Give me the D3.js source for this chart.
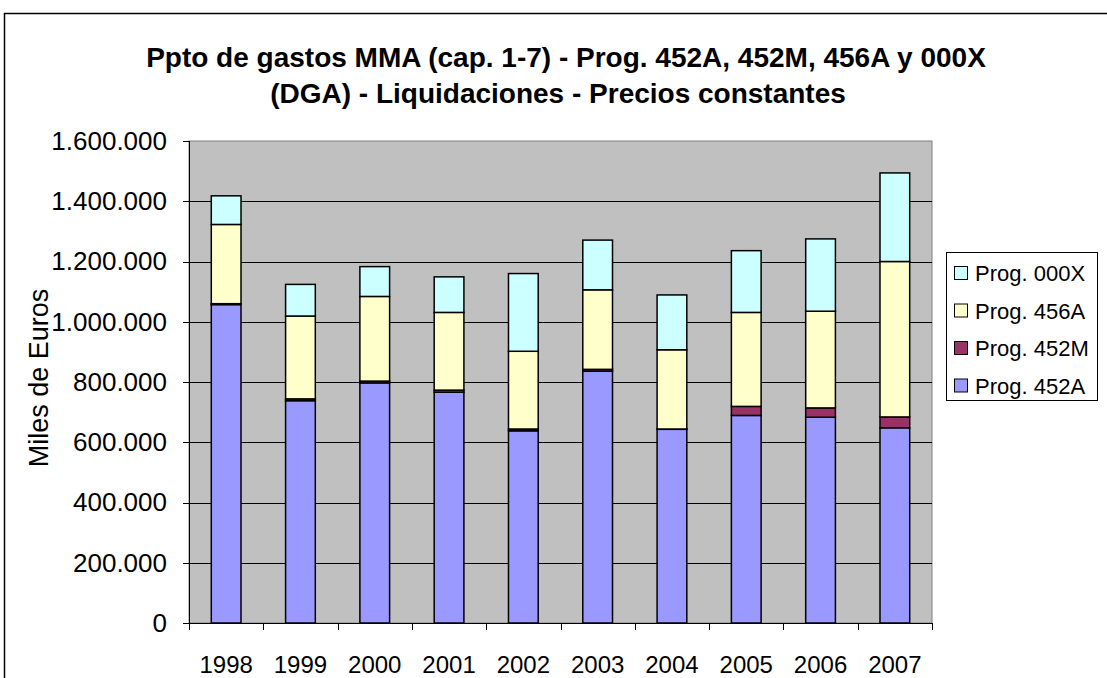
<!DOCTYPE html>
<html lang="es">
<head>
<meta charset="utf-8">
<script src="https://d3js.org/d3.v7.min.js"></script>
<style type="text/css">
body {
  margin: 0;
  background-color: #ffffff;
  font-family: "Liberation Sans", Arial, sans-serif;
}
.axis text {
  font-family: "Liberation Sans", Arial, sans-serif;
  fill: #000;
}
.axis line, .axis path {
  fill: none;
  stroke: #000;
  shape-rendering: crispEdges;
}
</style>
</head>
<body>
<script type="text/javascript">

// data (miles de euros)
var years = ["1998", "1999", "2000", "2001", "2002", "2003", "2004", "2005", "2006", "2007"];
var prog452A = [1057000, 738000, 797000, 766000, 638000, 836000, 643000, 689000, 683000, 648000];
var prog452M = [3000, 6000, 6000, 7000, 6000, 6000, 1000, 30000, 31000, 36000];
var prog456A = [263000, 275000, 281000, 258000, 258000, 264000, 263000, 312000, 321000, 516000];
var prog000X = [95000, 105000, 99000, 118000, 258000, 165000, 182000, 205000, 240000, 294000];
var yTicks = [0, 200000, 400000, 600000, 800000, 1000000, 1200000, 1400000, 1600000];

var seriesNames = ["Prog. 452A", "Prog. 452M", "Prog. 456A", "Prog. 000X"];
var seriesColors = ["#9999ff", "#993366", "#ffffcc", "#ccffff"];

var width = 1107;
var height = 678;

// plot area
var margin = {left: 189, right: 175, top: 141, bottom: 55};
var plotW = width - margin.left - margin.right;
var plotH = height - margin.top - margin.bottom;

var es = d3.formatLocale({decimal: ",", thousands: ".", grouping: [3], currency: ["", ""]});
var fmt = es.format(",d");

var svg = d3.select("body")
  .append("svg")
  .attr("width", width)
  .attr("height", height);

// outer chart frame
svg.append("rect")
  .attr("x", 4.5)
  .attr("y", 13.5)
  .attr("width", width + 20)
  .attr("height", height + 20)
  .style("fill", "#fff")
  .style("stroke", "#000")
  .style("stroke-width", 1.5);

var table = years.map(function(y, i) {
  return {year: y, "Prog. 452A": prog452A[i], "Prog. 452M": prog452M[i],
          "Prog. 456A": prog456A[i], "Prog. 000X": prog000X[i]};
});
var stacked = d3.stack().keys(seriesNames)(table);

var x = d3.scaleBand()
  .domain(years)
  .range([0, plotW])
  .paddingInner(0.6)
  .paddingOuter(0.3);

var xTick = d3.scaleBand().domain(years).range([0, plotW]);

var y = d3.scaleLinear()
  .domain([0, 1600000])
  .range([plotH, 0]);

var g = svg.append("g")
  .attr("transform", "translate(" + margin.left + "," + margin.top + ")");

g.append("rect")
  .attr("width", plotW)
  .attr("height", plotH)
  .style("fill", "#c0c0c0")
  .style("stroke", "#808080")
  .style("stroke-width", 1);

// gridlines
g.selectAll(".grid")
  .data(yTicks.filter(function(d) { return d > 0 && d < 1600000; }))
  .enter()
  .append("line")
  .attr("x1", 0)
  .attr("x2", plotW)
  .attr("y1", function(d) { return Math.round(y(d)) + 0.5; })
  .attr("y2", function(d) { return Math.round(y(d)) + 0.5; })
  .style("stroke", "#000")
  .style("stroke-width", 1);

// bars
g.selectAll(".series")
  .data(stacked)
  .enter()
  .append("g")
  .style("fill", function(d, i) { return seriesColors[i]; })
  .selectAll("rect")
  .data(function(d) { return d; })
  .enter()
  .append("rect")
  .attr("x", function(d) { return x(d.data.year); })
  .attr("width", x.bandwidth())
  .attr("y", function(d) { return y(d[1]); })
  .attr("height", function(d) { return y(d[0]) - y(d[1]); })
  .style("stroke", "#000")
  .style("stroke-width", 1.5);

// y axis
g.append("g")
  .attr("class", "axis")
  .call(d3.axisLeft(y).tickValues(yTicks).tickFormat(fmt).tickSize(6).tickPadding(16))
  .call(function(s) {
    s.select(".domain").attr("d", "M0.5,0V" + plotH);
    s.selectAll("text").style("font-size", "26px");
  });

// x axis
var xAxis = g.append("g")
  .attr("class", "axis")
  .attr("transform", "translate(0," + plotH + ")");
xAxis.append("line")
  .attr("x1", 0).attr("x2", plotW)
  .attr("y1", 0.5).attr("y2", 0.5);
xAxis.selectAll(".tk")
  .data(years.concat(["end"]))
  .enter()
  .append("line")
  .attr("x1", function(d, i) { return Math.round(i * xTick.step()) + 0.5; })
  .attr("x2", function(d, i) { return Math.round(i * xTick.step()) + 0.5; })
  .attr("y1", 0)
  .attr("y2", 7);
xAxis.selectAll(".lbl")
  .data(years)
  .enter()
  .append("text")
  .attr("x", function(d) { return xTick(d) + xTick.bandwidth() / 2; })
  .attr("y", 50)
  .attr("text-anchor", "middle")
  .style("font-size", "24px")
  .text(function(d) { return d; });

// y title
svg.append("text")
  .attr("transform", "translate(48,378) rotate(-90)")
  .attr("text-anchor", "middle")
  .style("font-size", "27px")
  .text("Miles de Euros");

// title
var title = svg.append("text")
  .attr("text-anchor", "middle")
  .style("font-size", "28px")
  .style("font-weight", "bold");
title.append("tspan").attr("x", 566).attr("y", 67)
  .text("Ppto de gastos MMA (cap. 1-7) - Prog. 452A, 452M, 456A y 000X");
title.append("tspan").attr("x", 558).attr("y", 103)
  .text("(DGA) - Liquidaciones - Precios constantes");

// legend
var legend = svg.append("g").attr("transform", "translate(946,252)");
legend.append("rect")
  .attr("x", 0.5).attr("y", 0.5)
  .attr("width", 151).attr("height", 148)
  .style("fill", "#fff")
  .style("stroke", "#000")
  .style("stroke-width", 1);
var items = legend.selectAll(".item")
  .data(seriesNames.slice().reverse())
  .enter()
  .append("g")
  .attr("transform", function(d, i) { return "translate(0," + (21 + i * 37.5) + ")"; });
items.append("rect")
  .attr("x", 8.5).attr("y", -6.5)
  .attr("width", 13).attr("height", 13)
  .style("fill", function(d) { return seriesColors[seriesNames.indexOf(d)]; })
  .style("stroke", "#000")
  .style("stroke-width", 1);
items.append("text")
  .attr("x", 29)
  .attr("y", 8)
  .style("font-size", "22px")
  .text(function(d) { return d; });

</script>
</body>
</html>
